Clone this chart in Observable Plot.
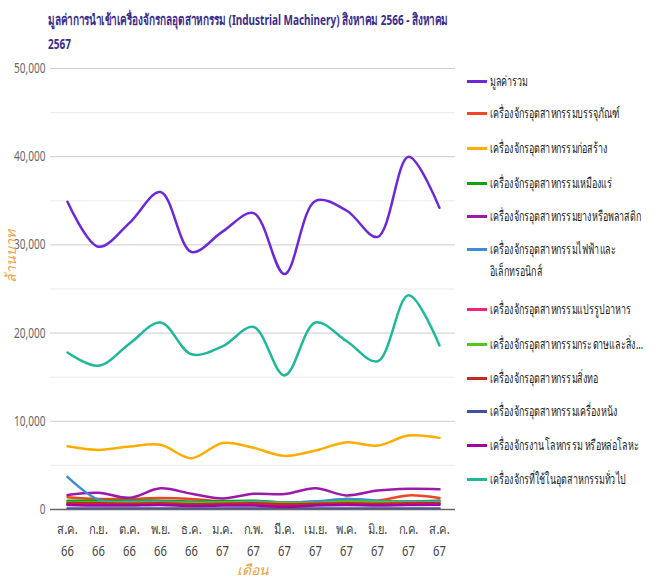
<!DOCTYPE html>
<html><head><meta charset="utf-8">
<script src="https://cdn.jsdelivr.net/npm/d3@7"></script>
<script src="https://cdn.jsdelivr.net/npm/@observablehq/plot@0.6"></script>
<style>
body{margin:0;background:#fff;font-family:"Noto Sans","DejaVu Sans",sans-serif;}
#wrap{position:relative;width:656px;height:580px;overflow:hidden;}
#title{position:absolute;left:48px;top:7px;font-size:15px;font-weight:bold;color:#3b2c8c;line-height:24px;transform-origin:0 0;white-space:nowrap;}
#legend{position:absolute;left:467px;top:0;}
.li{position:absolute;left:0;white-space:nowrap;font-size:14px;color:#222;line-height:22px;}
.sw{position:absolute;left:0;top:10px;width:20px;height:3px;}
.tx{position:absolute;left:23px;top:0;transform-origin:0 0;white-space:nowrap;}
#chart{position:absolute;left:0;top:0;}
</style></head><body>
<div id="wrap"><div id="chart"></div><div id="title"><span id="t1">มูลค่าการนำเข้าเครื่องจักรกลอุตสาหกรรม (Industrial Machinery) สิงหาคม 2566 - สิงหาคม</span><br>2567</div><div id="legend"></div></div>
<script>
const months = ["ส.ค. 66","ก.ย. 66","ต.ค. 66","พ.ย. 66","ธ.ค. 66","ม.ค. 67","ก.พ. 67","มี.ค. 67","เม.ย. 67","พ.ค. 67","มิ.ย. 67","ก.ค. 67","ส.ค. 67"];
const seriesNames = ["มูลค่ารวม","เครื่องจักรอุตสาหกรรมบรรจุภัณฑ์","เครื่องจักรอุตสาหกรรมก่อสร้าง","เครื่องจักรอุตสาหกรรมเหมืองแร่","เครื่องจักรอุตสาหกรรมยางหรือพลาสติก","เครื่องจักรอุตสาหกรรมไฟฟ้าและอิเล็กทรอนิกส์","เครื่องจักรอุตสาหกรรมแปรรูปอาหาร","เครื่องจักรอุตสาหกรรมกระดาษและสิ่ง...","เครื่องจักรอุตสาหกรรมสิ่งทอ","เครื่องจักรอุตสาหกรรมเครื่องหนัง","เครื่องจักรงานโลหกรรม หรือหล่อโลหะ","เครื่องจักรที่ใช้ในอุตสาหกรรมทั่วไป"];
const colors = ["#6d28d9","#f0451e","#ffad00","#13a013","#9c1aaa","#3a8fd4","#f0257c","#55c61e","#c62828","#3f51a5","#a4009f","#1fb89b"];

const total        = [34900,29800,32500,36000,29200,31500,33600,26700,35000,33900,30900,40000,34200];
const packaging    = [1400,1200,1200,1300,1200,900,800,700,800,1200,1000,1600,1300];
const construction = [7170,6760,7130,7330,5810,7550,6990,6080,6680,7620,7250,8380,8120];
const mining       = [1000,1000,1000,1000,900,950,1000,800,900,1000,900,900,1000];
const plastic      = [1650,1900,1330,2400,1780,1250,1780,1750,2400,1600,2150,2350,2300];
const electrical   = [3700,1100,900,900,800,800,900,800,900,1200,1000,900,1000];
const food         = [600,600,650,600,550,600,600,550,600,650,600,650,650];
const paper        = [800,800,800,800,750,800,800,750,750,900,850,800,800];
const textile      = [700,700,650,700,600,650,700,600,650,700,650,700,700];
const leather      = [100,100,100,100,100,100,100,100,100,100,100,100,100];
const metal        = [500,450,450,500,400,450,450,300,450,500,450,500,550];
const general      = [17800,16300,18800,21200,17600,18500,20700,15200,21200,19100,16800,24300,18600];

const yTicks = [0,10000,20000,30000,40000,50000];
const yMinor = [5000,15000,25000,35000,45000];

const allSeries = [total,packaging,construction,mining,plastic,electrical,food,paper,textile,leather,metal,general];
const rows = [];
allSeries.forEach((vals,si)=>vals.forEach((v,i)=>rows.push({series:seriesNames[si],month:months[i],value:v})));

const plot = Plot.plot({
  width:656, height:580,
  marginTop:68, marginBottom:71, marginLeft:50, marginRight:201,
  style:{fontFamily:'"Noto Sans","DejaVu Sans",sans-serif',background:"transparent"},
  x:{type:"point",domain:months,padding:0.48,label:null},
  y:{domain:[0,50000],label:null},
  color:{domain:seriesNames,range:colors},
  marks:[
    Plot.ruleY(yMinor,{stroke:"#ebebeb",strokeWidth:1}),
    Plot.ruleY(yTicks.filter(d=>d>0),{stroke:"#cccccc",strokeWidth:1}),
    Plot.axisY({ticks:yTicks,tickSize:0,tickPadding:5,tickFormat:d=>d3.format(",")(d),fontSize:14,fill:"#666",label:null}),
    Plot.axisX({tickSize:0,tickPadding:9,tickFormat:d=>d.replace(" ","\n"),fontSize:14,lineHeight:1.55,fill:"#444",label:null}),
    Plot.line(rows,{x:"month",y:"value",z:"series",stroke:"series",strokeWidth:2.5,curve:"catmull-rom"}),
    Plot.ruleY([0],{stroke:"#666",strokeWidth:1.5}),
    Plot.text(["ล้านบาท"],{frameAnchor:"left",dx:-39,dy:-6,rotate:-90,fill:"#f0a040",fontSize:14,fontStyle:"italic"}),
    Plot.text(["เดือน"],{frameAnchor:"bottom",dy:65,fill:"#f0a040",fontSize:14,fontStyle:"italic"})
  ]
});
document.getElementById("chart").appendChild(plot);

// condense tick label glyphs (reference uses a narrow font)
d3.select(plot).selectAll('g[aria-label="y-axis tick label"] text').each(function(){
  const w = this.getComputedTextLength();
  this.setAttribute("textLength", w*0.72);
  this.setAttribute("lengthAdjust","spacingAndGlyphs");
});
d3.select(plot).selectAll('g[aria-label="x-axis tick label"] tspan').each(function(){
  const w = this.getComputedTextLength();
  this.setAttribute("textLength", w*0.8);
  this.setAttribute("lengthAdjust","spacingAndGlyphs");
});

// condense the title to the reference width
const t1 = document.getElementById("t1");
const title = document.getElementById("title");
const tw = t1.getBoundingClientRect().width;
title.style.transform = `scaleX(${400/tw})`;

const tops = [70,102,137,172,205,238,298,333,367,400,434,468];
const leg = document.getElementById("legend");
const spans = [];
seriesNames.forEach((t,i)=>{
  const d = document.createElement("div");
  d.className="li"; d.style.top = tops[i]+"px";
  const sw = document.createElement("span"); sw.className="sw"; sw.style.background=colors[i];
  const tx = document.createElement("span"); tx.className="tx";
  if(i===5){ tx.innerHTML = "เครื่องจักรอุตสาหกรรมไฟฟ้าและ<br>อิเล็กทรอนิกส์"; } else { tx.textContent = t; }
  d.appendChild(sw); d.appendChild(tx); leg.appendChild(d); spans.push(tx);
});
// scale legend text so the longest label matches the reference width (~151px)
const refW = spans[4].getBoundingClientRect().width;
const k = 151/refW;
spans.forEach(s=>s.style.transform=`scaleX(${k})`);
</script>
</body></html>
